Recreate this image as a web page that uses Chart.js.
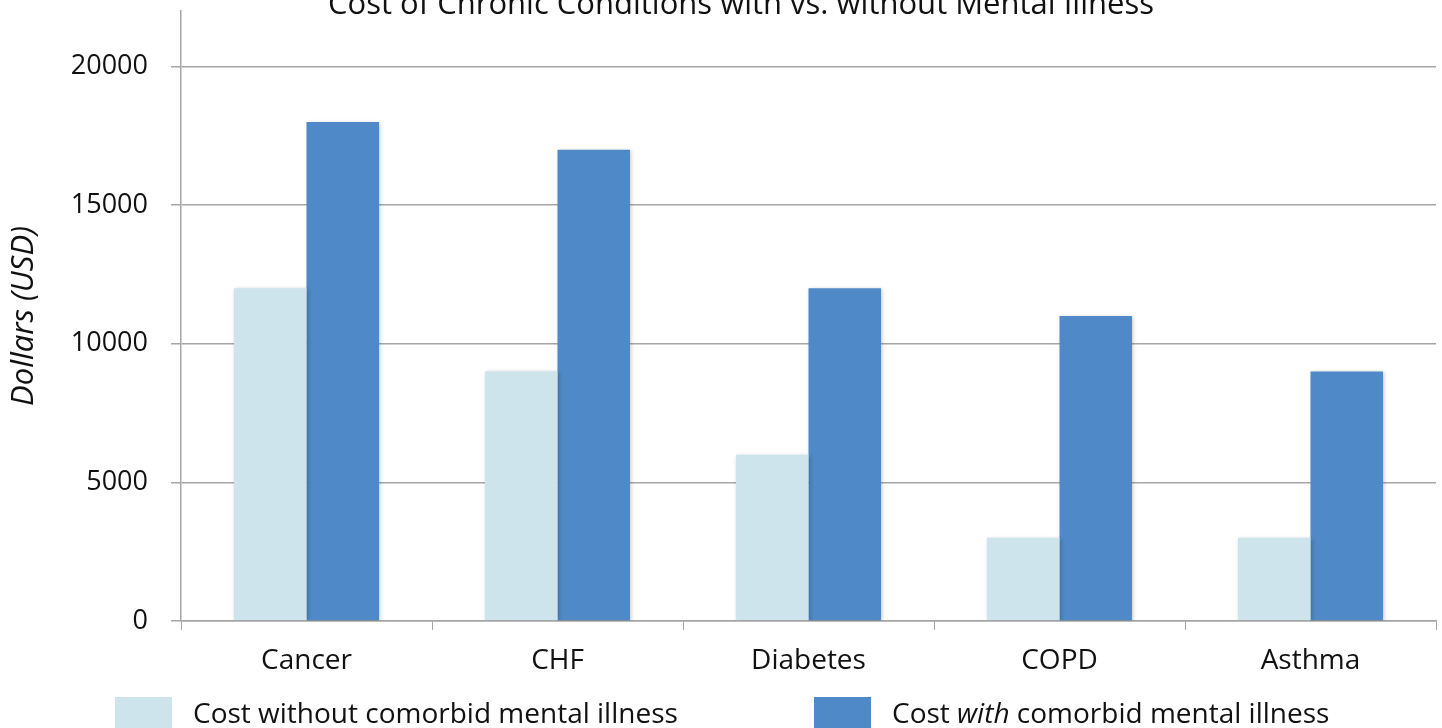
<!DOCTYPE html>
<html>
<head>
<meta charset="utf-8">
<script src="https://cdn.jsdelivr.net/npm/chart.js@4.4.0/dist/chart.umd.min.js"></script>
<style>
  body { margin: 0; background: #fff; }
  #wrap { position: relative; width: 1442px; height: 728px; overflow: hidden; font-family: 'Open Sans', sans-serif; }
  #chart { position: absolute; left: 0; top: 0; }
  .title { position: absolute; left: 0; width: 1482px; top: -13px; line-height: 30px; text-align: center; font-size: 31px; color: #111; white-space: nowrap; }
  .legend-item { position: absolute; top: 697px; display: flex; align-items: flex-start; font-size: 28px; color: #111; white-space: nowrap; }
  .legend-item .box { width: 57px; height: 57px; margin-right: 21px; }
  .legend-item .txt { line-height: 34px; margin-top: -2px; }
</style>
</head>
<body>
<div id="wrap">
  <canvas id="chart" width="1442" height="728"></canvas>
  <div class="title">Cost of Chronic Conditions with vs. without Mental Illness</div>
  <div class="legend-item" style="left:115px"><div class="box" style="background:#cde4ec"></div><span class="txt">Cost without comorbid mental illness</span></div>
  <div class="legend-item" style="left:814px"><div class="box" style="background:#4f89c7"></div><span class="txt">Cost <i>with</i> comorbid mental illness</span></div>
</div>
<script>
// データ
const categories = ['Cancer', 'CHF', 'Diabetes', 'COPD', 'Asthma'];
const costWithout = [12000, 9000, 6000, 3000, 3000];
const costWith = [18000, 17000, 12000, 11000, 9000];
const yTicks = [0, 5000, 10000, 15000, 20000];

const gridGray = '#a6a6a6';
const font = 'Open Sans';

// 棒の影
const barShadow = {
  id: 'barShadow',
  beforeDatasetsDraw(chart) {
    const ctx = chart.ctx;
    ctx.save();
    ctx.shadowColor = 'rgba(0, 0, 0, 0.22)';
    ctx.shadowBlur = 4;
    ctx.shadowOffsetX = 1;
    ctx.shadowOffsetY = 1;
  },
  afterDatasetsDraw(chart) {
    chart.ctx.restore();
  }
};

new Chart(document.getElementById('chart'), {
  type: 'bar',
  data: {
    labels: categories,
    datasets: [
      { label: 'Cost without comorbid mental illness', data: costWithout, backgroundColor: '#cde4ec' },
      { label: 'Cost with comorbid mental illness', data: costWith, backgroundColor: '#4f89c7' }
    ]
  },
  options: {
    responsive: false,
    animation: false,
    layout: { padding: { top: 11, right: 6, bottom: 47, left: 0 } },
    datasets: { bar: { barPercentage: 1, categoryPercentage: 0.578 } },
    plugins: {
      legend: { display: false },
      tooltip: { enabled: false }
    },
    scales: {
      x: {
        afterFit: s => { s.height = 60; s.paddingLeft = 0; s.paddingRight = 0; },
        grid: { display: true, drawOnChartArea: false, drawTicks: true, tickLength: 9, color: gridGray, offset: true },
        border: { color: gridGray, width: 1.5 },
        ticks: { color: '#111', font: { family: font, size: 28 }, padding: 14, maxRotation: 0 }
      },
      y: {
        min: 0,
        max: 22000,
        afterFit: s => { s.width = 181; s.paddingTop = 0; s.paddingBottom = 0; },
        afterBuildTicks: s => { s.ticks = yTicks.concat([22000]).map(v => ({ value: v })); },
        grid: { color: gridGray, lineWidth: 1.5, tickLength: 10 },
        border: { color: gridGray, width: 1.5 },
        ticks: {
          color: '#111',
          font: { family: font, size: 27 },
          padding: 23,
          callback: v => (yTicks.includes(v) ? String(v) : null)
        },
        title: {
          display: true,
          text: 'Dollars (USD)',
          color: '#111',
          font: { family: font, size: 31, style: 'italic' },
          padding: { top: 6, bottom: 0 }
        }
      }
    }
  },
  plugins: [barShadow]
});
</script>
</body>
</html>
